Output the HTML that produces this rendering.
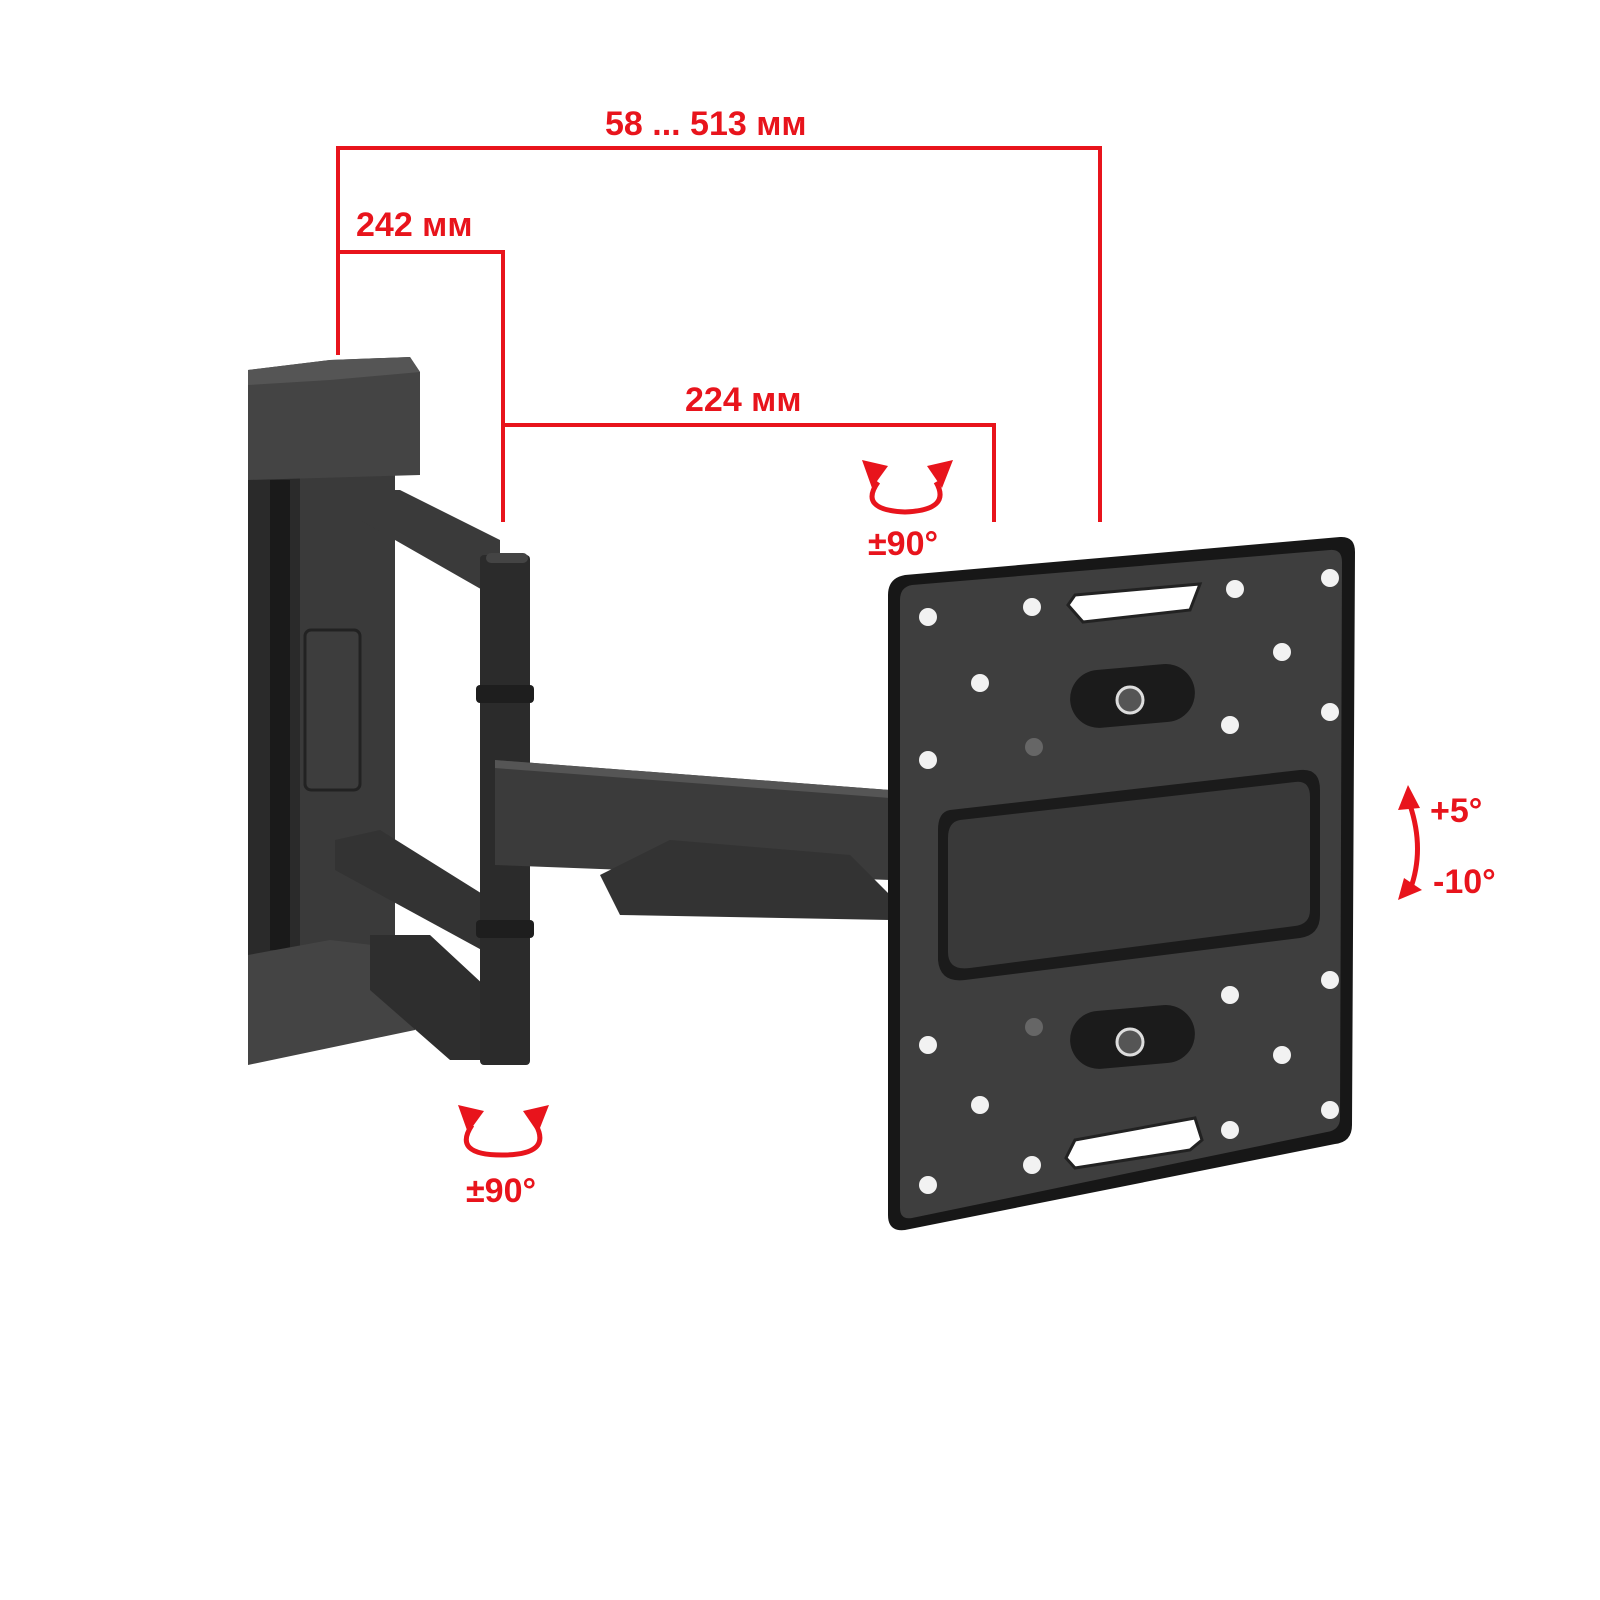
<!DOCTYPE html>
<html><head><meta charset="utf-8"><style>
html,body{margin:0;padding:0;background:#fff;}
svg{display:block}
text{font-family:"Liberation Sans",sans-serif;font-weight:bold;fill:#e8141c}
</style></head><body>
<svg width="1600" height="1600" viewBox="0 0 1600 1600" xmlns="http://www.w3.org/2000/svg">
<!-- dimension lines -->
<g stroke="#e8141c" stroke-width="4" fill="none">
<polyline points="338,355 338,148 1100,148 1100,522"/>
<polyline points="338,252 503,252 503,522"/>
<polyline points="503,425 994,425 994,522"/>
</g>
<text x="605" y="135" font-size="34">58 ... 513 мм</text>
<text x="356" y="236" font-size="34">242 мм</text>
<text x="685" y="411" font-size="34">224 мм</text>
<text x="868" y="555" font-size="34">±90°</text>
<text x="466" y="1202" font-size="34">±90°</text>
<text x="1430" y="822" font-size="34">+5°</text>
<text x="1433" y="893" font-size="34">-10°</text>
<!-- rotation arrows -->
<g stroke="#e8141c" stroke-width="5" fill="none">
<path d="M878,482 Q858,510 905,512 Q952,510 936,482"/>
<path d="M472,1125 Q452,1155 502,1155 Q552,1155 536,1125"/>
<path d="M1410,805 Q1425,850 1410,890"/>
</g>
<g fill="#e8141c">
<polygon points="862,460 888,466 872,488"/>
<polygon points="953,460 927,466 942,488"/>
<polygon points="458,1105 484,1111 468,1133"/>
<polygon points="549,1105 523,1111 538,1133"/>
<polygon points="1408,785 1398,810 1420,808"/>
<polygon points="1398,900 1422,890 1404,878"/>
</g>
<!-- wall plate -->
<rect x="248" y="470" width="60" height="490" fill="#2a2a2a"/>
<rect x="270" y="480" width="20" height="470" fill="#1a1a1a"/>
<rect x="300" y="470" width="95" height="490" fill="#3a3a3a"/>
<path d="M248,370 L330,360 L410,357 L420,372 L420,475 L248,480 Z" fill="#444"/>
<path d="M248,370 L330,360 L410,357 L420,372 L330,380 L248,385Z" fill="#555"/>
<path d="M248,955 L330,940 L415,950 L415,1030 L248,1065 Z" fill="#444"/>
<rect x="305" y="630" width="55" height="160" rx="6" fill="#3d3d3d" stroke="#222" stroke-width="3"/>
<!-- arms -->
<polygon points="335,490 400,490 500,540 500,600 360,520 335,520" fill="#3a3a3a"/>
<polygon points="335,840 380,830 500,905 500,960 335,870" fill="#333"/>
<polygon points="370,935 430,935 500,1000 500,1060 450,1060 370,990" fill="#2e2e2e"/>
<rect x="480" y="555" width="50" height="510" rx="4" fill="#2b2b2b"/>
<rect x="486" y="553" width="42" height="10" rx="5" fill="#444"/>
<rect x="476" y="685" width="58" height="18" rx="4" fill="#1e1e1e"/>
<rect x="476" y="920" width="58" height="18" rx="4" fill="#1e1e1e"/>
<polygon points="495,760 890,790 890,880 495,865" fill="#3b3b3b"/>
<polygon points="495,760 890,790 890,798 495,768" fill="#555"/>
<polygon points="600,875 670,840 850,855 890,895 890,920 620,915" fill="#333"/>
<!-- VESA plate -->
<path d="M905,575 L1340,537 Q1355,536 1355,552 L1352,1125 Q1352,1142 1335,1144 L905,1230 Q888,1232 888,1215 L888,595 Q888,578 905,575 Z" fill="#171717"/>
<path d="M912,585 L1330,550 Q1342,549 1342,562 L1340,1118 Q1340,1130 1327,1132 L912,1218 Q900,1220 900,1208 L900,600 Q900,587 912,585Z" fill="#3e3e3e"/>
<path d="M950,810 L1300,770 Q1320,768 1320,790 L1320,915 Q1320,935 1300,938 L965,980 Q940,983 938,960 L938,830 Q938,812 950,810Z" fill="#1b1b1b"/>
<path d="M960,820 L1295,782 Q1310,780 1310,797 L1310,910 Q1310,924 1295,926 L970,968 Q948,971 948,952 L948,838 Q948,822 960,820Z" fill="#393939"/>
<rect x="1070" y="667" width="125" height="58" rx="29" fill="#1b1b1b" transform="rotate(-5 1132 696)"/>
<rect x="1070" y="1008" width="125" height="58" rx="29" fill="#1b1b1b" transform="rotate(-5 1132 1037)"/>
<circle cx="1130" cy="700" r="13" fill="#555" stroke="#ddd" stroke-width="3"/>
<circle cx="1130" cy="1042" r="13" fill="#555" stroke="#ddd" stroke-width="3"/>
<polygon points="1075,595 1200,584 1190,610 1083,622 1068,605" fill="#fff" stroke="#222" stroke-width="3"/>
<polygon points="1075,1140 1195,1118 1202,1140 1190,1150 1075,1168 1066,1158" fill="#fff" stroke="#222" stroke-width="3"/>
<g fill="#f2f2f2">
<circle cx="928" cy="617" r="9"/><circle cx="1032" cy="607" r="9"/><circle cx="1235" cy="589" r="9"/><circle cx="1330" cy="578" r="9"/>
<circle cx="980" cy="683" r="9"/><circle cx="1282" cy="652" r="9"/>
<circle cx="1230" cy="725" r="9"/><circle cx="1330" cy="712" r="9"/><circle cx="928" cy="760" r="9"/>
<circle cx="1230" cy="995" r="9"/><circle cx="1330" cy="980" r="9"/><circle cx="928" cy="1045" r="9"/>
<circle cx="1282" cy="1055" r="9"/><circle cx="980" cy="1105" r="9"/>
<circle cx="1230" cy="1130" r="9"/><circle cx="1330" cy="1110" r="9"/><circle cx="1032" cy="1165" r="9"/><circle cx="928" cy="1185" r="9"/>
</g>
<circle cx="1034" cy="747" r="9" fill="#666"/><circle cx="1034" cy="1027" r="9" fill="#666"/>
</svg>
</body></html>
